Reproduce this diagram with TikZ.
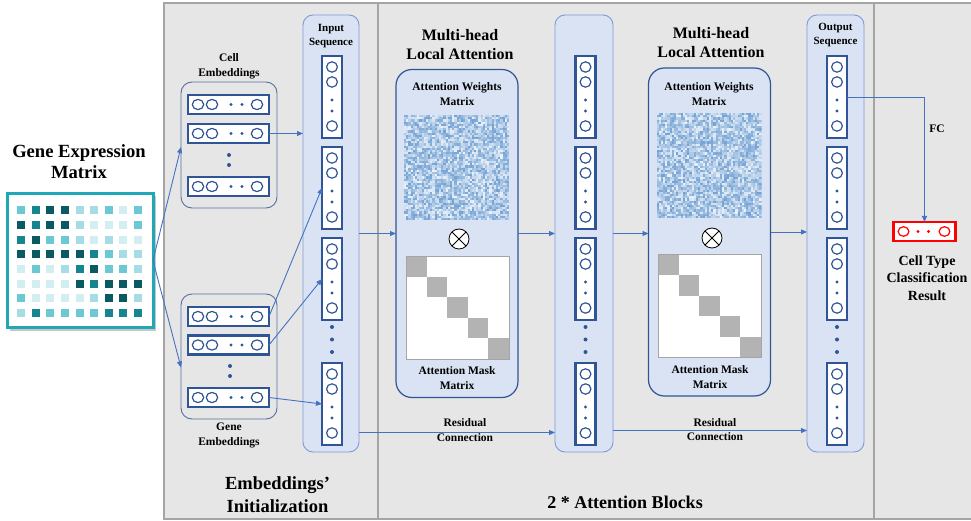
\documentclass[tikz,border=0pt]{standalone}
\usepackage{fontspec}
\setmainfont{Liberation Serif}
\usetikzlibrary{arrows.meta,calc}

\definecolor{panelgray}{HTML}{E7E6E6}
\definecolor{panelline}{HTML}{A5A5A5}
\definecolor{colfill}{HTML}{DAE3F3}
\definecolor{colline}{HTML}{7A9BD8}
\definecolor{boxline}{HTML}{2F5597}
\definecolor{embline}{HTML}{56719F}
\definecolor{arrblue}{HTML}{4472C4}
\definecolor{vecblue}{HTML}{2F5597}
\definecolor{tealframe}{HTML}{1FA8B6}
\definecolor{gl1}{HTML}{D3EEF2}
\definecolor{gl2}{HTML}{A6DCE3}
\definecolor{gl3}{HTML}{6CC9D3}
\definecolor{gl4}{HTML}{15858F}
\definecolor{gl5}{HTML}{0B5962}
\definecolor{wblue}{HTML}{3F7FC4}
\definecolor{maskgray}{HTML}{B3B3B3}
\definecolor{resred}{HTML}{FF0000}

\newcommand\fsz[2]{\fontsize{#1}{#2}\selectfont\bfseries}

\tikzset{
  lbl/.style={align=center, inner sep=0pt},
  colbox/.style={draw=colline, line width=0.9pt, fill=colfill, rounded corners=10pt,
    inner sep=0pt, outer sep=0pt, anchor=north west},
  attbox/.style={draw=boxline, line width=1.2pt, fill=colfill, rounded corners=16pt,
    inner sep=0pt, outer sep=0pt, anchor=north west, minimum width=122pt, minimum height=328pt},
  embbox/.style={draw=embline, line width=0.9pt, rounded corners=11pt,
    inner sep=0pt, outer sep=0pt, anchor=north west, minimum width=96pt},
  vecv/.style={draw=vecblue, line width=2.6pt, fill=white, inner sep=0pt, outer sep=0pt,
    anchor=north west, minimum width=20pt, minimum height=82pt},
  vech/.style={draw=vecblue, line width=2.6pt, fill=white, inner sep=0pt, outer sep=0pt,
    anchor=north west, minimum width=81pt, minimum height=19pt},
  ring/.style={draw=vecblue, line width=1.2pt},
  dotf/.style={fill=vecblue},
  arr/.style={draw=arrblue, line width=0.9pt, -{Triangle[length=6pt,width=5pt]}},
  otimesnode/.style={circle, draw=black, line width=0.8pt, fill=white, minimum size=20pt,
    inner sep=0pt, path picture={
      \draw[line width=0.8pt] (path picture bounding box.north west) -- (path picture bounding box.south east)
        (path picture bounding box.north east) -- (path picture bounding box.south west);}},
}

% vertical embedding vector: name, left, top
\newcommand\vvec[3]{%
  \node[vecv] (#1) at (#2,#3) {};
  \begin{scope}[shift={(#2,#3)}]
    \draw[ring] (10,11) ellipse (5.4 and 5.2);
    \draw[ring] (10,26) ellipse (5.4 and 5.2);
    \fill[dotf] (10,44) circle (1.7);
    \fill[dotf] (10,55) circle (1.7);
    \draw[ring] (10,70) ellipse (5.4 and 5.2);
  \end{scope}}

% horizontal embedding vector: name, left, top
\newcommand\hvec[3]{%
  \node[vech] (#1) at (#2,#3) {};
  \begin{scope}[shift={(#2,#3)}]
    \draw[ring] (10,9.5) ellipse (5.7 and 5.1);
    \draw[ring] (24,9.5) ellipse (5.7 and 5.1);
    \fill[dotf] (43,9.5) circle (1.7);
    \fill[dotf] (54,9.5) circle (1.7);
    \draw[ring] (69,9.5) ellipse (5.7 and 5.1);
  \end{scope}}

% sequence column with four vectors: prefix, vector left
\newcommand\seqvecs[2]{%
  \vvec{#1a}{#2}{56}
  \vvec{#1b}{#2}{147}
  \vvec{#1c}{#2}{238}
  \vvec{#1d}{#2}{363}
  \fill[dotf] (#2+10,327) circle (2);
  \fill[dotf] (#2+10,339.5) circle (2);
  \fill[dotf] (#2+10,352) circle (2);}

% attention weights heat map: left, top, seed
\newcommand\weightmap[3]{%
  \pgfmathsetseed{#3}
  \begin{scope}[shift={(#1,#2)}]
    \clip (0,0) rectangle (105,105);
    \foreach \i in {0,...,47} {
      \foreach \j in {0,...,47} {
        \pgfmathsetmacro\wv{int(12+62*rnd)}
        \fill[wblue!\wv!white] (\i*2.19,\j*2.19) rectangle ++(2.5,2.5);
      }}
  \end{scope}}

% banded attention mask: left, top
\newcommand\maskmap[2]{%
  \begin{scope}[shift={(#1,#2)}]
    \fill[white] (0,0) rectangle (103,103);
    \foreach \i in {0,...,4} \fill[maskgray] (\i*20.6,\i*20.6) rectangle ++(20.6,20.6);
    \draw[panelline, line width=0.8pt] (0,0) rectangle (103,103);
  \end{scope}}

\begin{document}
\begin{tikzpicture}[x=1pt,y=-1pt]
\useasboundingbox (0,0) rectangle (971,521);
\fill[white] (0,0) rectangle (971,521);

% gray stage panel and its dividers
\fill[panelgray] (164,3) rectangle (971,519);
\draw[panelline, line width=1.2pt] (971,3) -- (164,3) -- (164,519) -- (971,519);
\draw[panelline, line width=1.2pt] (378,3) -- (378,519);
\draw[panelline, line width=1.2pt] (874,3) -- (874,519);

% gene expression matrix
\node[lbl, font=\fsz{18.6}{21}] (gemtitle) at (79,162) {Gene Expression\\Matrix};
\fill[black!22] (9.5,196.5) rectangle (155.5,330.5);
\node[draw=tealframe, line width=3pt, fill=white, inner sep=0pt, outer sep=0pt,
  anchor=north west, minimum width=146pt, minimum height=133pt] (gem) at (7,194) {};
\foreach \row [count=\r from 0] in {
  {3,4,5,5,2,2,3,1,3},
  {5,4,5,5,2,1,1,1,3},
  {4,5,3,3,2,1,2,1,1},
  {5,5,5,5,5,4,3,2,2},
  {1,3,1,2,4,5,3,3,2},
  {1,1,1,1,5,4,5,5,5},
  {3,1,1,1,1,2,5,5,2},
  {2,4,3,3,3,3,4,4,4}} {
  \foreach \c [count=\k from 0] in \row {
    \fill[gl\c] (17.2+14.6*\k,206.4+14.66*\r) rectangle ++(8,8);
  }}

% cell and gene embeddings
\node[lbl, font=\fsz{11.5}{15}] (celltitle) at (229,66) {Cell\\Embeddings};
\node[embbox, minimum height=126pt] (cellbox) at (181,82) {};
\hvec{c1}{188}{95}
\hvec{c2}{188}{124}
\fill[dotf] (229,155) circle (2);
\fill[dotf] (229,165) circle (2);
\hvec{c3}{188}{177}

\node[embbox, minimum height=125pt] (genebox) at (181,294) {};
\hvec{g1}{188}{307}
\hvec{g2}{188}{335.5}
\fill[dotf] (230,366) circle (2);
\fill[dotf] (230,376) circle (2);
\hvec{g3}{188}{388}
\node[lbl, font=\fsz{11.5}{15}] (genetitle) at (229,435) {Gene\\Embeddings};

% input, intermediate and output sequences
\node[colbox, minimum width=56pt, minimum height=437pt] (incol) at (303,15) {};
\node[lbl, font=\fsz{11}{14.5}] (intitle) at (331,36) {Input\\Sequence};
\seqvecs{iv}{322}

\node[colbox, minimum width=58pt, minimum height=437pt] (midcol) at (555,15) {};
\seqvecs{mv}{575.5}

\node[colbox, minimum width=57pt, minimum height=437pt] (outcol) at (807,15) {};
\node[lbl, font=\fsz{11}{14.5}] (outtitle) at (835.5,35) {Output\\Sequence};
\seqvecs{ov}{827}

% attention blocks
\node[lbl, font=\fsz{16}{19}] (mh1) at (460,45) {Multi-head\\Local Attention};
\node[attbox] (att1) at (396,69.5) {};
\node[lbl, font=\fsz{11.5}{14.5}] (aw1) at (457,94) {Attention Weights\\Matrix};
\weightmap{404}{115}{17}
\node[otimesnode] (ot1) at (459,239) {};
\maskmap{406}{256}
\node[lbl, font=\fsz{11.5}{14.5}] (am1) at (457,378) {Attention Mask\\Matrix};

\node[lbl, font=\fsz{16}{19}] (mh2) at (711,43) {Multi-head\\Local Attention};
\node[attbox] (att2) at (648.5,68) {};
\node[lbl, font=\fsz{11.5}{14.5}] (aw2) at (709,94) {Attention Weights\\Matrix};
\weightmap{656.5}{113}{29}
\node[otimesnode] (ot2) at (712,238) {};
\maskmap{658}{254.5}
\node[lbl, font=\fsz{11.5}{14.5}] (am2) at (710,377) {Attention Mask\\Matrix};

% classification result
\node[draw=resred, line width=2.4pt, fill=white, inner sep=0pt, outer sep=0pt,
  minimum width=62pt, minimum height=19pt] (res) at (924.5,231.5) {};
\draw[resred, line width=1.2pt] (903.5,231.5) ellipse (5.4 and 4.8);
\draw[resred, line width=1.2pt] (944.5,231.5) ellipse (5.4 and 4.8);
\fill[resred] (918,231.5) circle (1.7);
\fill[resred] (928.5,231.5) circle (1.7);
\node[lbl, font=\fsz{14}{17.5}] (restitle) at (927,278) {Cell Type\\Classification\\Result};

% connectors
\draw[arr] (gem.east) -- ($(cellbox.west)+(0,2)$);
\draw[arr] (gem.east) -- ($(genebox.west)+(0,11)$);
\draw[arr] (c2.east) -- (c2.east -| incol.west);
\draw[arr] (g1.east) -- (ivb.west);
\draw[arr] (g2.east) -- (ivc.west);
\draw[arr] (g3.east) -- (ivd.west);
\draw[arr] (incol.east) -- (incol.east -| att1.west);
\draw[arr] (att1.east) -- (att1.east -| midcol.west);
\draw[arr] (midcol.east) -- (midcol.east -| att2.west);
\draw[arr] (att2.east) -- (att2.east -| outcol.west);
\draw[arr] ($(incol.east)+(0,199)$) coordinate (r1) -- (r1 -| midcol.west);
\draw[arr] ($(midcol.east)+(0,197)$) coordinate (r2) -- (r2 -| outcol.west);
\draw[arr] (ova.east) -| (res.north);

\node[lbl, font=\fsz{11.5}{14.5}] (rc1) at (465,430) {Residual\\Connection};
\node[lbl, font=\fsz{11.5}{14.5}] (rc2) at (715,429.5) {Residual\\Connection};
\node[lbl, font=\fsz{11.5}{14}] (fc) at (937,129) {FC};

% stage captions
\node[lbl, font=\fsz{18.5}{23}] (stage1) at (277.5,494.5) {Embeddings’\\Initialization};
\node[lbl, font=\fsz{18}{22}] (stage2) at (625,502) {2 * Attention Blocks};
\end{tikzpicture}
\end{document}
